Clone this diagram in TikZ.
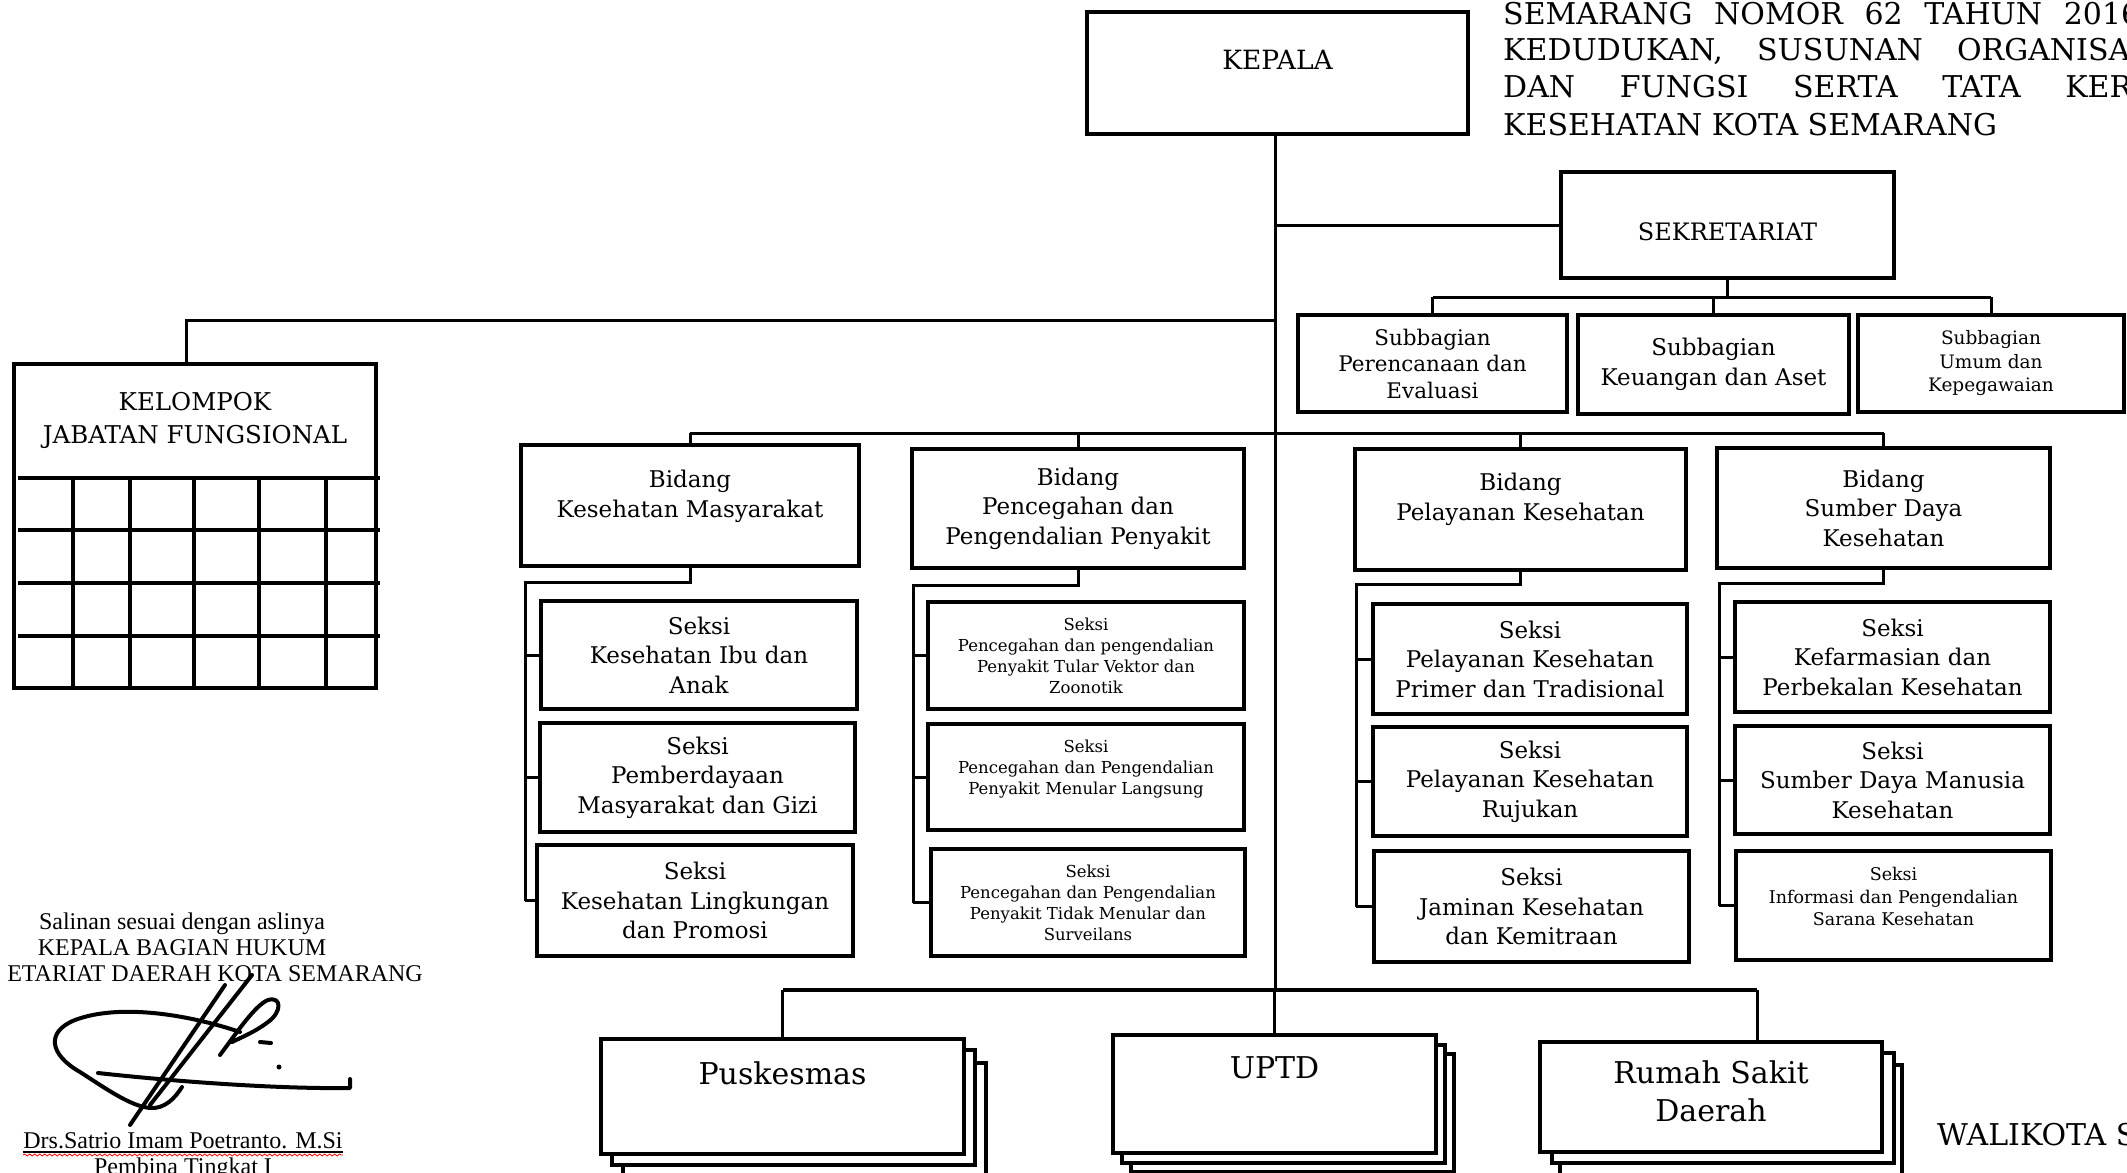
\documentclass[tikz,border=0pt]{standalone}
\usepackage{fontspec}
\setmainfont{DejaVu Serif}
\newfontfamily\timesfont{Liberation Serif}
\usetikzlibrary{calc,shadows,decorations.pathmorphing}

\begin{document}
\begin{tikzpicture}[x=1pt,y=-1pt,
    box/.style={draw,line width=3.5pt,fill=white,align=center,inner sep=0pt},
    link/.style={line width=3pt},
    ftitle/.style={font=\fontsize{24}{30}\selectfont},
    fbid/.style={font=\fontsize{23}{29.5}\selectfont,align=center},
    fsmall/.style={font=\fontsize{16.5}{21}\selectfont,align=center},
    fbot/.style={font=\fontsize{30}{38}\selectfont,align=center},
    hdr/.style={font=\fontsize{30}{37}\selectfont,inner sep=0pt},
    sig/.style={font=\timesfont\fontsize{24}{25}\selectfont,inner sep=0pt},
    sigline/.style={line width=4pt,line cap=round,line join=round}]
    \useasboundingbox (0,0) rectangle (2127,1172);
    \clip (0,0) rectangle (2127,1172);

    % header text
    \node[hdr,anchor=base west] (h1) at (1503,24.5) {\makebox[637pt][s]{SEMARANG NOMOR 62 TAHUN 2016}};
    \node[hdr,anchor=base west] (h2) at (1503,60.5) {\makebox[627pt][s]{KEDUDUKAN, SUSUNAN ORGANISA}};
    \node[hdr,anchor=base west] (h3) at (1503,97.5) {\makebox[629pt][s]{DAN FUNGSI SERTA TATA KER}};
    \node[hdr,anchor=base west] (h4) at (1503,135.5) {KESEHATAN KOTA SEMARANG};

    % kepala, sekretariat
    \node[box,minimum width=381,minimum height=122,label={[ftitle,font=\fontsize{26.5}{30}\selectfont,yshift=13pt]center:KEPALA}] (kepala) at (1277.5,73) {};
    \node[box,minimum width=333,minimum height=106,label={[ftitle,yshift=-7pt]center:SEKRETARIAT}] (sekre) at (1727.5,225) {};
    \node[box,minimum width=269,minimum height=97,font=\fontsize{21.5}{26.5}\selectfont] (sub1) at (1432.5,363.5) {Subbagian\\Perencanaan dan\\Evaluasi};
    \node[box,minimum width=271,minimum height=99,font=\fontsize{23}{30}\selectfont] (sub2) at (1713.5,364.5) {Subbagian\\Keuangan dan Aset};
    \node[box,minimum width=266,minimum height=97,font=\fontsize{18.5}{23.5}\selectfont] (sub3) at (1991,363.5) {Subbagian\\Umum dan\\Kepegawaian};

    % kelompok jabatan fungsional
    \node[box,minimum width=362,minimum height=324,label={[fbid,font=\fontsize{24.5}{33}\selectfont,yshift=106pt]center:KELOMPOK\\JABATAN FUNGSIONAL}] (kjf) at (195,526) {};
    \foreach \y in {478,530,583,636} \draw[link,line width=3.5pt] (18,\y) -- (380,\y);
    \foreach \x in {73,130,194,259,326} \draw[link,line width=3.5pt] (\x,478) -- (\x,688);

    % bidang
    \node[box,minimum width=338,minimum height=121,label={[fbid,yshift=9pt]center:Bidang\\Kesehatan Masyarakat}] (b1) at (690,505.5) {};
    \node[box,fbid,minimum width=332,minimum height=119] (b2) at (1078,508.5) {Bidang\\Pencegahan dan\\Pengendalian Penyakit};
    \node[box,minimum width=331,minimum height=121,label={[fbid,yshift=10pt]center:Bidang\\Pelayanan Kesehatan}] (b3) at (1520.5,509.5) {};
    \node[box,fbid,minimum width=333,minimum height=120] (b4) at (1883.5,508) {Bidang\\Sumber Daya\\Kesehatan};

    % seksi
    \node[box,fbid,minimum width=316,minimum height=108] (s11) at (699,655) {Seksi\\Kesehatan Ibu dan\\Anak};
    \node[box,fbid,minimum width=315,minimum height=109] (s12) at (697.5,777.5) {Seksi\\Pemberdayaan\\Masyarakat dan Gizi};
    \node[box,fbid,minimum width=316,minimum height=111] (s13) at (695,900.5) {Seksi\\Kesehatan Lingkungan\\dan Promosi};
    \node[box,fsmall,minimum width=316,minimum height=107] (s21) at (1086,655.5) {Seksi\\Pencegahan dan pengendalian\\Penyakit Tular Vektor dan\\Zoonotik};
    \node[box,minimum width=316,minimum height=106,label={[fsmall,yshift=8pt]center:Seksi\\Pencegahan dan Pengendalian\\Penyakit Menular Langsung}] (s22) at (1086,777) {};
    \node[box,fsmall,minimum width=314,minimum height=107] (s23) at (1088,902.5) {Seksi\\Pencegahan dan Pengendalian\\Penyakit Tidak Menular dan\\Surveilans};
    \node[box,fbid,minimum width=314,minimum height=110] (s31) at (1530,659) {Seksi\\Pelayanan Kesehatan\\Primer dan Tradisional};
    \node[box,fbid,minimum width=314,minimum height=109] (s32) at (1530,781.5) {Seksi\\Pelayanan Kesehatan\\Rujukan};
    \node[box,fbid,minimum width=315,minimum height=111] (s33) at (1531.5,906.5) {Seksi\\Jaminan Kesehatan\\dan Kemitraan};
    \node[box,fbid,minimum width=315,minimum height=110] (s41) at (1892.5,657) {Seksi\\Kefarmasian dan\\Perbekalan Kesehatan};
    \node[box,fbid,minimum width=315,minimum height=108] (s42) at (1892.5,780) {Seksi\\Sumber Daya Manusia\\Kesehatan};
    \node[box,minimum width=315,minimum height=109,label={[fsmall,font=\fontsize{17.5}{22.5}\selectfont,yshift=9pt]center:Seksi\\Informasi dan Pengendalian\\Sarana Kesehatan}] (s43) at (1893.5,905.5) {};

    % unit pelaksana
    \node[box,minimum width=363,minimum height=115,
        copy shadow={shadow xshift=22pt,shadow yshift=-24pt},copy shadow={shadow xshift=11pt,shadow yshift=-11pt},
        label={[fbot,yshift=23pt]center:Puskesmas}] (pusk) at (782.5,1096.5) {};
    \node[box,minimum width=323,minimum height=118,
        copy shadow={shadow xshift=18pt,shadow yshift=-19pt},copy shadow={shadow xshift=9pt,shadow yshift=-10pt},
        label={[fbot,yshift=26pt]center:UPTD}] (uptd) at (1274.5,1094) {};
    \node[box,minimum width=342,minimum height=110,
        copy shadow={shadow xshift=20pt,shadow yshift=-23pt},copy shadow={shadow xshift=12pt,shadow yshift=-11pt},
        label={[fbot,yshift=6pt]center:Rumah Sakit\\Daerah}] (rsd) at (1711,1097) {};
    \node[hdr,anchor=base west] (wali) at (1937,1145) {WALIKOTA S};

    % connectors
    \coordinate (trunk) at (1275,0);
    \coordinate (kbar) at (0,320);
    \coordinate (sbar) at (0,297);
    \coordinate (bbar) at (0,433);
    \coordinate (ubar) at (0,990);
    \draw[link] (kepala.south -| trunk) -- (ubar -| trunk);
    \draw[link] (sekre.west -| trunk) -- (sekre.west);
    \draw[link] (sekre.south) -- (sekre.south |- sbar);
    \draw[link] (sub1.north |- sbar) -- (sub3.north |- sbar);
    \foreach \s in {sub1,sub2,sub3} \draw[link] (\s.north |- sbar) -- (\s.north);
    \coordinate (kjftop) at ($(kjf.north)+(-9,0)$);
    \draw[link] (kjftop) -- (kjftop |- kbar) -- (kbar -| trunk);
    \draw[link] (b1.north |- bbar) -- (b4.north |- bbar);
    \foreach \b in {b1,b2,b3,b4} \draw[link] (\b.north |- bbar) -- (\b.north);

    \coordinate (e1) at (525,582);
    \coordinate (e2) at (913,585);
    \coordinate (e3) at (1356,584);
    \coordinate (e4) at (1719,583);
    \draw[link] (b1.south) -- (b1.south |- e1) -- (e1) -- (e1 |- s13.west);
    \draw[link] (b2.south) -- (b2.south |- e2) -- (e2) -- (e2 |- s23.west);
    \draw[link] (b3.south) -- (b3.south |- e3) -- (e3) -- (e3 |- s33.west);
    \draw[link] (b4.south) -- (b4.south |- e4) -- (e4) -- (e4 |- s43.west);
    \foreach \s in {s11,s12,s13} \draw[link] (e1 |- \s.west) -- (\s.west);
    \foreach \s in {s21,s22,s23} \draw[link] (e2 |- \s.west) -- (\s.west);
    \foreach \s in {s31,s32,s33} \draw[link] (e3 |- \s.west) -- (\s.west);
    \foreach \s in {s41,s42,s43} \draw[link] (e4 |- \s.west) -- (\s.west);

    \coordinate (rsdtop) at ($(rsd.north)+(46,0)$);
    \draw[link,line width=4pt] (pusk.north |- ubar) -- (ubar -| rsdtop);
    \draw[link] (ubar -| rsdtop) -- (rsdtop);
    \draw[link] (pusk.north |- ubar) -- (pusk.north);
    \draw[link] (uptd.north |- ubar) -- (uptd.north);

    % salinan
    \node[sig,anchor=base] (sal) at (182,929) {Salinan sesuai dengan aslinya};
    \node[sig,anchor=base] (kbh) at (182,955) {KEPALA BAGIAN HUKUM};
    \node[sig,anchor=base east] (setda) at (423,981) {ETARIAT DAERAH KOTA SEMARANG};
    \draw[sigline] (98,1073) .. controls (180,1082) and (280,1089) .. (350,1088) -- (350,1079);
    \draw[sigline] (240,1032) .. controls (190,1015) and (120,1003) .. (75,1020) .. controls (45,1032) and (50,1055) .. (80,1072) .. controls (105,1088) and (130,1106) .. (150,1108) .. controls (165,1109) and (175,1098) .. (182,1087);
    \draw[sigline] (130,1125) -- (225,985);
    \draw[sigline] (150,1105) -- (252,975);
    \draw[sigline] (220,1055) .. controls (235,1035) and (255,1005) .. (268,1000) .. controls (282,996) and (282,1012) .. (268,1022) .. controls (255,1032) and (240,1038) .. (232,1042);
    \draw[sigline] (260,1042) -- (271,1043);
    \fill (279,1067) circle (2.5pt);
    \node[sig,anchor=base] (drs) at (183,1148) {Drs.Satrio Imam Poetranto. M.Si};
    \draw[line width=1.5pt] ([yshift=-4pt]drs.base west) -- ([yshift=-4pt]drs.base east);
    \draw[red,line width=0.8pt,decorate,decoration={snake,amplitude=1pt,segment length=5pt}] ([yshift=-7pt]drs.base west) -- ([yshift=-7pt]drs.base east);
    \node[sig,anchor=base] (pemb) at (183,1174) {Pembina Tingkat I};
\end{tikzpicture}
\end{document}
